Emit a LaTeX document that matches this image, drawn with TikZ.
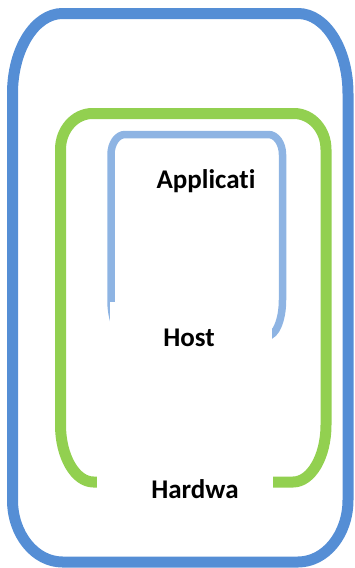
\documentclass[tikz,border=0pt]{standalone}
\usepackage{fontspec}
\setmainfont[Ligatures={NoCommon,NoContextual},RawFeature={-calt;-clig}]{Carlito}
\definecolor{outerblue}{RGB}{85,142,213}
\definecolor{hostgreen}{RGB}{146,208,80}
\definecolor{applblue}{RGB}{142,180,227}
\begin{document}
\begin{tikzpicture}[x=1pt,y=-1pt,
  lbl/.style={anchor=base,inner sep=0pt,font=\fontsize{27}{32}\selectfont\bfseries},
  mask/.style={fill=white}]
\useasboundingbox (0,0) rectangle (354,568);
% outer hardware frame
\draw[outerblue,line width=11pt] (12.5,93.5)
  arc[start angle=180,end angle=270,x radius=50,y radius=80] -- (298,13.5)
  arc[start angle=270,end angle=360,x radius=50,y radius=80] -- (348,500)
  arc[start angle=0,end angle=90,x radius=50,y radius=62] -- (62.5,562)
  arc[start angle=90,end angle=180,x radius=50,y radius=62] -- cycle;
% host frame
\draw[hostgreen,line width=11pt] (60.5,149.5)
  arc[start angle=180,end angle=270,x radius=32,y radius=36] -- (294,113.5)
  arc[start angle=270,end angle=360,x radius=32,y radius=36] -- (326,425)
  arc[start angle=0,end angle=90,x radius=33,y radius=57] -- (93.5,482)
  arc[start angle=90,end angle=180,x radius=33,y radius=57] -- cycle;
% application frame
\draw[applblue,line width=7.5pt] (111,154.5)
  arc[start angle=180,end angle=270,x radius=14,y radius=20] -- (268.5,134.5)
  arc[start angle=270,end angle=360,x radius=14,y radius=20] -- (282.5,300)
  arc[start angle=0,end angle=90,x radius=15,y radius=36] -- (126,336)
  arc[start angle=90,end angle=180,x radius=15,y radius=36] -- cycle;
% text boxes (white fills that hide the frame bottoms)
\fill[mask] (110,302) rectangle (272,360);
\fill[mask] (97,450) rectangle (273,515);
\node[lbl] (app) at (206,188) {Applicat\kern0pt i};
\node[lbl] (host) at (189,346) {Host};
\node[lbl] (hw) at (195,498) {Hardwa};
\end{tikzpicture}
\end{document}
